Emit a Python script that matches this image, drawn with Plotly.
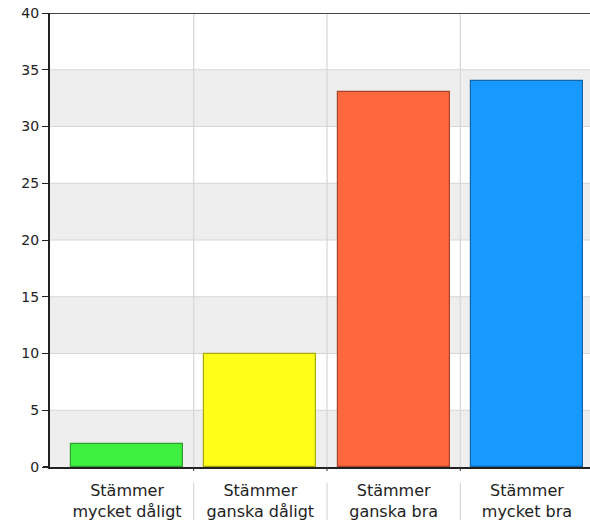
import plotly.graph_objects as go

categories = ["Stämmer<br>mycket dåligt", "Stämmer<br>ganska dåligt", "Stämmer<br>ganska bra", "Stämmer<br>mycket bra"]
values = [2, 10, 33, 34]
colors = ["#40F040", "#FFFF19", "#FF673D", "#1899FF"]
borders = ["#2E9E2E", "#A8A810", "#A8432A", "#1466A8"]
y_ticks = [0, 5, 10, 15, 20, 25, 30, 35, 40]

xpos = list(range(len(categories)))

fig = go.Figure()
fig.add_trace(go.Bar(
    x=xpos, y=values, width=0.84,
    marker=dict(color=colors, line=dict(color=borders, width=1.2)),
    hoverinfo="skip",
))

shapes = []
# alternating bands
for i in range(0, 40, 10):
    shapes.append(dict(type="rect", xref="paper", yref="y", x0=0, x1=1, y0=i, y1=i + 5,
                       fillcolor="#EEEEEE", line=dict(width=0), layer="below"))
# horizontal gridlines
for t in y_ticks[1:-1]:
    shapes.append(dict(type="line", xref="paper", yref="y", x0=0, x1=1, y0=t, y1=t,
                       line=dict(color="#D6D6D6", width=1.2), layer="below"))
# vertical category separators
for b in [0.5, 1.5, 2.5]:
    shapes.append(dict(type="line", xref="x", yref="y", x0=b, x1=b, y0=0, y1=40,
                       line=dict(color="#D6D6D6", width=1.2), layer="below"))
    shapes.append(dict(type="line", xref="x", yref="paper", x0=b, x1=b, y0=0, y1=-0.009,
                       line=dict(color="#333333", width=1)))
    shapes.append(dict(type="line", xref="x", yref="paper", x0=b, x1=b, y0=-0.035, y1=-0.12,
                       line=dict(color="#D0D0D0", width=1)))
# top border
shapes.append(dict(type="line", xref="paper", yref="y", x0=0, x1=1, y0=40, y1=40,
                   line=dict(color="#444444", width=2)))
# x-axis line extension to the left of the y-axis
shapes.append(dict(type="line", xref="paper", yref="y", x0=-0.013, x1=0, y0=0, y1=0,
                   line=dict(color="#222222", width=2)))

fig.update_layout(
    width=590, height=520,
    margin=dict(l=50, r=0, t=13, b=53),
    paper_bgcolor="white", plot_bgcolor="white",
    showlegend=False,
    shapes=shapes,
    font=dict(family="DejaVu Sans", size=13, color="#222222"),
    xaxis=dict(
        range=[-0.578, 3.473],
        tickmode="array", tickvals=xpos, ticktext=categories,
        showgrid=False, zeroline=False,
        showline=True, linecolor="#222222", linewidth=2,
        ticks="", tickfont=dict(size=16, color="#222222"),
        ticklabelstandoff=8,
    ),
    yaxis=dict(
        range=[0, 40],
        tickmode="array", tickvals=y_ticks,
        showgrid=False, zeroline=False,
        showline=True, linecolor="#222222", linewidth=2,
        ticks="outside", ticklen=6, tickcolor="#222222", tickwidth=1,
        tickfont=dict(size=14, color="#222222"),
    ),
    bargap=0,
)

fig.write_html("out.html", config={"displayModeBar": False},
               post_script="document.body.style.margin='0';document.body.style.overflow='hidden';")
